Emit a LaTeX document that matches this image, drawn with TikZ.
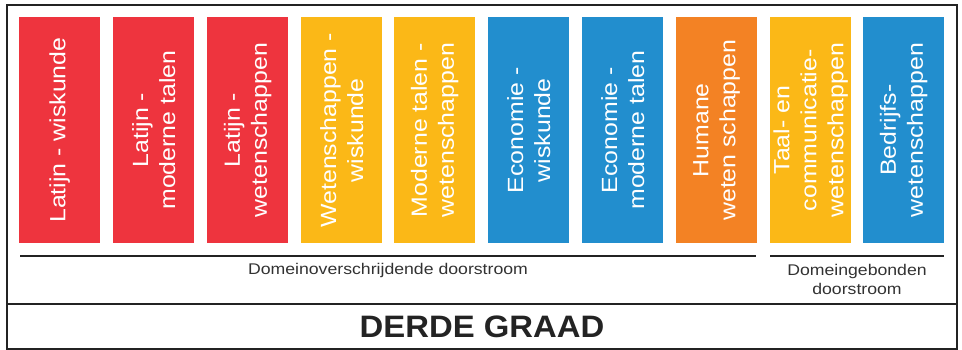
\documentclass[tikz,border=0pt]{standalone}
\usepackage{fontspec}
\setmainfont{Liberation Sans}
\newfontfamily\boxfont[FakeStretch=1.13]{Liberation Sans}
\newfontfamily\capfont[FakeStretch=1.14]{Liberation Sans}
\newfontfamily\titlefont[FakeStretch=1.06]{Liberation Sans}
\definecolor{cred}{RGB}{238,52,62}
\definecolor{cyel}{RGB}{251,184,23}
\definecolor{cblue}{RGB}{34,142,206}
\definecolor{corange}{RGB}{243,130,36}
\definecolor{cdark}{RGB}{35,35,35}
\definecolor{ctext}{RGB}{50,50,50}
\tikzset{
  optbox/.style={minimum width=81pt, minimum height=226pt, inner sep=0pt, draw=none, anchor=north west},
  optlabel/.style={rotate=90, align=center, text=white, inner sep=0pt,
     font=\boxfont\fontsize{22}{27}\selectfont},
  bracketline/.style={line width=2pt, draw=cdark},
  caplabel/.style={align=center, text=ctext, inner sep=0pt, font=\capfont\fontsize{15.5}{19}\selectfont},
}
\begin{document}
\begin{tikzpicture}[x=1pt,y=-1pt]
\useasboundingbox (0,0) rectangle (962,350);
% outer frame
\node[draw=cdark, line width=2pt, minimum width=950pt, minimum height=344pt, inner sep=0pt, anchor=north west] (frame) at (6,4) {};
\coordinate (sepL) at (6,304);
\coordinate (sepR) at (956,304);
\draw[line width=2.2pt, cdark] (sepL) -- (sepR);
% boxes
\node[optbox, fill=cred] (b1) at (19,17) {};
\node[optbox, fill=cred] (b2) at (113,17) {};
\node[optbox, fill=cred] (b3) at (207,17) {};
\node[optbox, fill=cyel] (b4) at (301,17) {};
\node[optbox, fill=cyel] (b5) at (394,17) {};
\node[optbox, fill=cblue] (b6) at (488,17) {};
\node[optbox, fill=cblue] (b7) at (582,17) {};
\node[optbox, fill=corange] (b8) at (676,17) {};
\node[optbox, fill=cyel] (b9) at (770,17) {};
\node[optbox, fill=cblue] (b10) at (863,17) {};
% labels
\node[optlabel] (t1) at (b1.center) {Latijn - wiskunde};
\node[optlabel] (t2) at (b2.center) {Latijn -\\moderne talen};
\node[optlabel] (t3) at (b3.center) {Latijn -\\wetenschappen};
\node[optlabel] (t4) at (b4.center) {Wetenschappen -\\wiskunde};
\node[optlabel] (t5) at (b5.center) {Moderne talen -\\wetenschappen};
\node[optlabel] (t6) at (b6.center) {Economie -\\wiskunde};
\node[optlabel] (t7) at (b7.center) {Economie -\\moderne talen};
\node[optlabel] (t8) at (b8.center) {Humane\\weten schappen};
\node[optlabel] (t9) at (b9.center) {Taal- en\\communicatie-\\wetenschappen};
\node[optlabel] (t10) at (b10.center) {Bedrijfs-\\wetenschappen};
% brackets
\coordinate (l1a) at (20,256);
\coordinate (l1b) at (756,256);
\coordinate (l2a) at (770,256);
\coordinate (l2b) at (944,256);
\draw[bracketline] (l1a) -- (l1b);
\draw[bracketline] (l2a) -- (l2b);
\node[caplabel] (c1) at (388,270) {Domeinoverschrijdende doorstroom};
\node[caplabel] (c2) at (857,279) {Domeingebonden\\doorstroom};
% title
\node[text=cdark, inner sep=0pt, font=\titlefont\bfseries\fontsize{31}{36}\selectfont] (title) at (482,327) {DERDE GRAAD};
\end{tikzpicture}
\end{document}
